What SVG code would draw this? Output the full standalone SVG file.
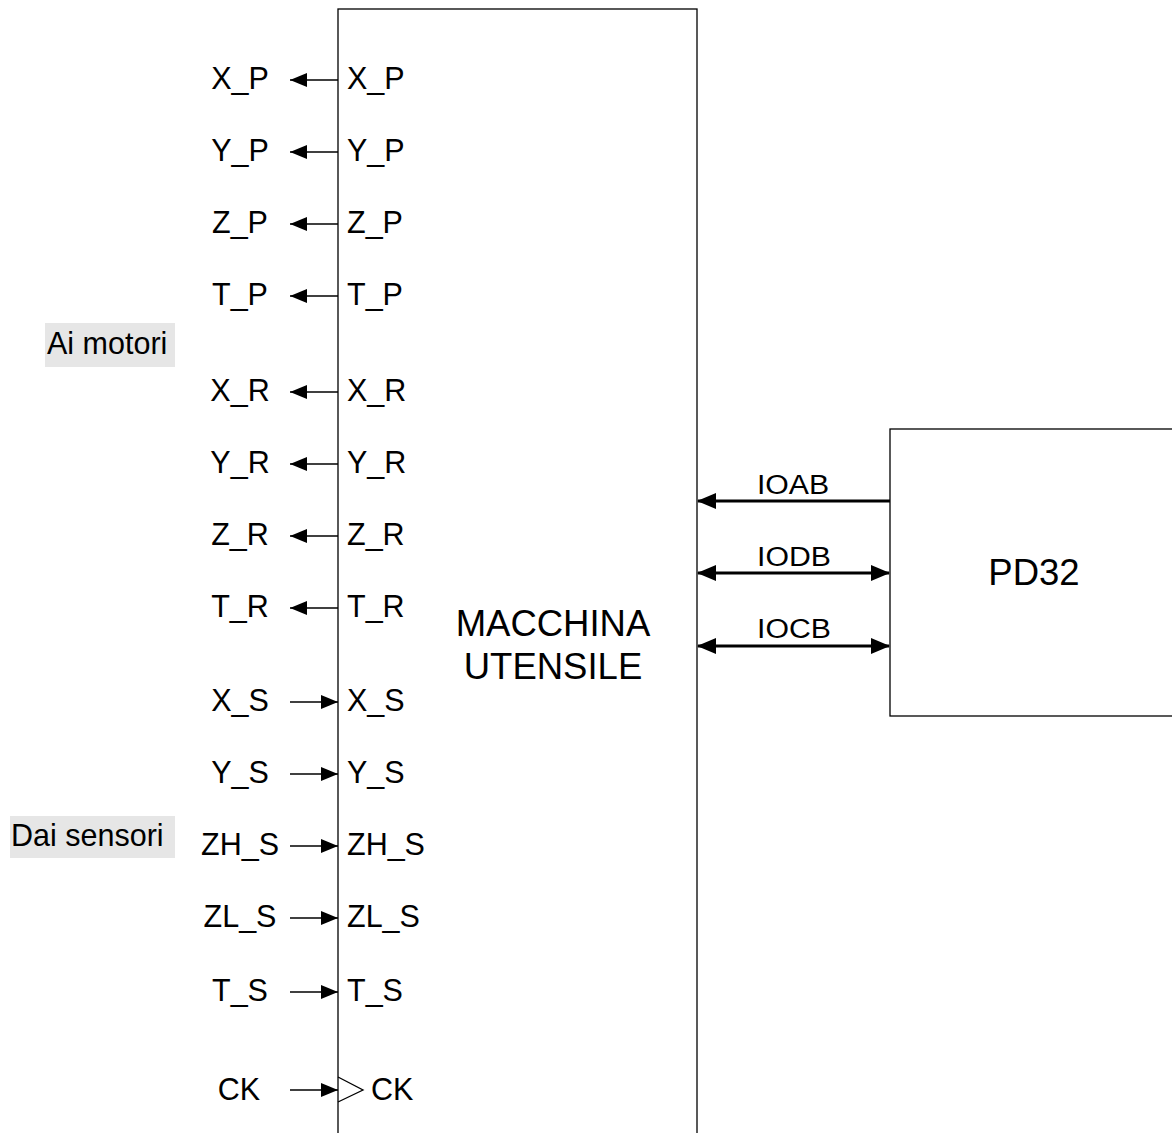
<svg xmlns="http://www.w3.org/2000/svg" width="1172" height="1133" viewBox="0 0 1172 1133">
<defs>
<style>
text{font-family:"Liberation Sans",Arial,sans-serif;fill:#000}
.lbl{font-size:30.5px}
.lc{text-anchor:middle}
.big{font-size:36.5px;text-anchor:middle}
.bus{font-size:27px;text-anchor:middle}
.box{fill:#fff;stroke:#000;stroke-width:1.3}
.sig{stroke:#000;stroke-width:1.3;fill:none}
.thick{stroke:#000;stroke-width:3;fill:none}
.tag{fill:#e6e6e6}
</style>
<marker id="ah" markerUnits="userSpaceOnUse" markerWidth="18" markerHeight="14" refX="17" refY="7" orient="auto">
<path d="M0,0 L17,7 L0,14 z" fill="#000"/>
</marker>
<marker id="ahb" markerUnits="userSpaceOnUse" markerWidth="20" markerHeight="16" refX="18" refY="8" orient="auto-start-reverse">
<path d="M0,0 L19,8 L0,16 z" fill="#000"/>
</marker>
</defs>
<g id="macchina">
<rect class="box" x="338" y="9" width="359" height="1200"/>
<text class="big" x="553" y="636">MACCHINA</text>
<text class="big" x="553" y="679">UTENSILE</text>
<polyline class="sig" points="338,1077 363,1090 338,1102"/>
</g>
<g id="pd32">
<rect class="box" x="890" y="429" width="320" height="287"/>
<text class="big" x="1034" y="585">PD32</text>
</g>
<g id="tag-motori">
<rect class="tag" x="45" y="323" width="130" height="44"/>
<text class="lbl" x="47" y="354">Ai motori</text>
</g>
<g id="tag-sensori">
<rect class="tag" x="10" y="816" width="165" height="42"/>
<text class="lbl" x="11" y="846">Dai sensori</text>
</g>
<g id="labels">
<text class="lbl lc" x="240" y="89">X_P</text><text class="lbl" x="347" y="89">X_P</text>
<text class="lbl lc" x="240" y="161">Y_P</text><text class="lbl" x="347" y="161">Y_P</text>
<text class="lbl lc" x="240" y="233">Z_P</text><text class="lbl" x="347" y="233">Z_P</text>
<text class="lbl lc" x="240" y="305">T_P</text><text class="lbl" x="347" y="305">T_P</text>
<text class="lbl lc" x="240" y="401">X_R</text><text class="lbl" x="347" y="401">X_R</text>
<text class="lbl lc" x="240" y="473">Y_R</text><text class="lbl" x="347" y="473">Y_R</text>
<text class="lbl lc" x="240" y="545">Z_R</text><text class="lbl" x="347" y="545">Z_R</text>
<text class="lbl lc" x="240" y="617">T_R</text><text class="lbl" x="347" y="617">T_R</text>
<text class="lbl lc" x="240" y="711">X_S</text><text class="lbl" x="347" y="711">X_S</text>
<text class="lbl lc" x="240" y="783">Y_S</text><text class="lbl" x="347" y="783">Y_S</text>
<text class="lbl lc" x="240" y="855">ZH_S</text><text class="lbl" x="347" y="855">ZH_S</text>
<text class="lbl lc" x="240" y="927">ZL_S</text><text class="lbl" x="347" y="927">ZL_S</text>
<text class="lbl lc" x="240" y="1001">T_S</text><text class="lbl" x="347" y="1001">T_S</text>
<text class="lbl lc" x="239" y="1100">CK</text><text class="lbl" x="371" y="1100">CK</text>
<text class="bus" transform="translate(793,494) scale(1.12,1)">IOAB</text>
<text class="bus" transform="translate(794,566) scale(1.12,1)">IODB</text>
<text class="bus" transform="translate(794,638) scale(1.12,1)">IOCB</text>
</g>
<g id="connectors">
<line class="sig" x1="338" y1="80" x2="290" y2="80" marker-end="url(#ah)"/>
<line class="sig" x1="338" y1="152" x2="290" y2="152" marker-end="url(#ah)"/>
<line class="sig" x1="338" y1="224" x2="290" y2="224" marker-end="url(#ah)"/>
<line class="sig" x1="338" y1="296" x2="290" y2="296" marker-end="url(#ah)"/>
<line class="sig" x1="338" y1="392" x2="290" y2="392" marker-end="url(#ah)"/>
<line class="sig" x1="338" y1="464" x2="290" y2="464" marker-end="url(#ah)"/>
<line class="sig" x1="338" y1="536" x2="290" y2="536" marker-end="url(#ah)"/>
<line class="sig" x1="338" y1="608" x2="290" y2="608" marker-end="url(#ah)"/>
<line class="sig" x1="290" y1="702" x2="338" y2="702" marker-end="url(#ah)"/>
<line class="sig" x1="290" y1="774" x2="338" y2="774" marker-end="url(#ah)"/>
<line class="sig" x1="290" y1="846" x2="338" y2="846" marker-end="url(#ah)"/>
<line class="sig" x1="290" y1="918" x2="338" y2="918" marker-end="url(#ah)"/>
<line class="sig" x1="290" y1="992" x2="338" y2="992" marker-end="url(#ah)"/>
<line class="sig" x1="290" y1="1090" x2="338" y2="1090" marker-end="url(#ah)"/>
<line class="thick" x1="890" y1="501" x2="698" y2="501" marker-end="url(#ahb)"/>
<line class="thick" x1="698" y1="573" x2="889" y2="573" marker-start="url(#ahb)" marker-end="url(#ahb)"/>
<line class="thick" x1="698" y1="646" x2="889" y2="646" marker-start="url(#ahb)" marker-end="url(#ahb)"/>
</g>
</svg>
